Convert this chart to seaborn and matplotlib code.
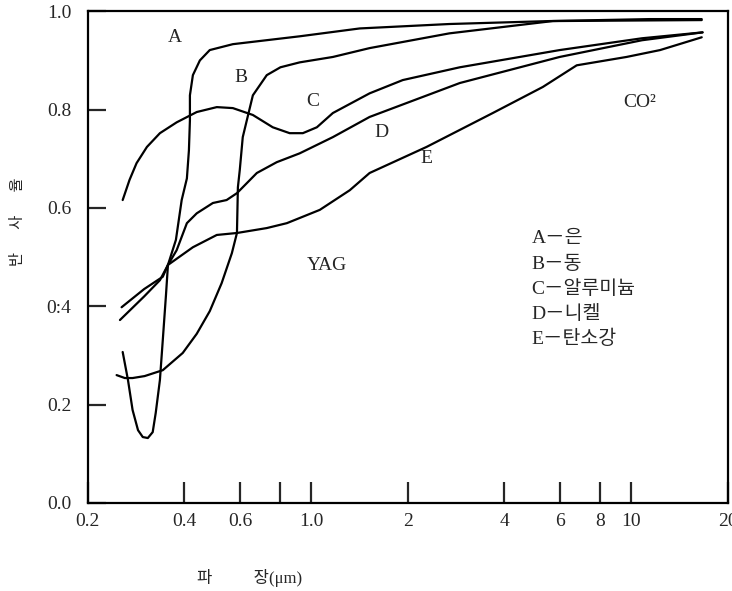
import matplotlib
matplotlib.use("Agg")
import matplotlib.pyplot as plt
import pandas as pd
import seaborn as sns

# wavelength (um) / reflectance
a_wl = [0.257, 0.267, 0.276, 0.287, 0.297, 0.308, 0.319, 0.326, 0.336, 0.343, 0.351, 0.356,
        0.377, 0.393, 0.408, 0.414, 0.417, 0.417, 0.426, 0.448, 0.481, 0.568, 0.919, 1.416,
        2.70, 5.56, 11.4, 16.6]
a_r = [0.307, 0.250, 0.189, 0.148, 0.134, 0.132, 0.144, 0.183, 0.250, 0.331, 0.423, 0.484,
       0.535, 0.616, 0.660, 0.717, 0.778, 0.829, 0.870, 0.900, 0.921, 0.933, 0.949, 0.965,
       0.974, 0.980, 0.984, 0.984]

b_wl = [0.246, 0.261, 0.276, 0.301, 0.343, 0.396, 0.438, 0.481, 0.524, 0.564, 0.585, 0.589,
        0.597, 0.610, 0.656, 0.725, 0.80, 0.919, 1.167, 1.52, 2.70, 5.68, 16.6]
b_r = [0.260, 0.254, 0.254, 0.258, 0.270, 0.305, 0.344, 0.390, 0.447, 0.508, 0.549, 0.642,
       0.677, 0.744, 0.829, 0.870, 0.886, 0.896, 0.907, 0.925, 0.955, 0.980, 0.982]

c_wl = [0.257, 0.270, 0.284, 0.306, 0.336, 0.379, 0.438, 0.506, 0.568, 0.656, 0.757, 0.855,
        0.940, 1.040, 1.167, 1.52, 1.93, 2.91, 5.97, 10.8, 16.7]
c_r = [0.616, 0.657, 0.691, 0.724, 0.752, 0.774, 0.795, 0.805, 0.803, 0.789, 0.764, 0.752,
       0.752, 0.764, 0.793, 0.833, 0.860, 0.886, 0.921, 0.945, 0.957]

d_wl = [0.252, 0.30, 0.336, 0.356, 0.379, 0.408, 0.438, 0.492, 0.543, 0.585, 0.675, 0.779,
        0.919, 1.167, 1.52, 2.91, 5.97, 10.8, 16.7]
d_r = [0.372, 0.420, 0.453, 0.484, 0.514, 0.569, 0.589, 0.610, 0.616, 0.630, 0.671, 0.693,
       0.711, 0.744, 0.785, 0.854, 0.907, 0.941, 0.957]

e_wl = [0.255, 0.30, 0.343, 0.356, 0.426, 0.506, 0.585, 0.725, 0.838, 1.062, 1.318, 1.52,
        2.29, 3.69, 5.29, 6.75, 9.66, 12.3, 16.6]
e_r = [0.398, 0.435, 0.460, 0.484, 0.520, 0.545, 0.549, 0.559, 0.569, 0.596, 0.636, 0.671,
       0.724, 0.793, 0.846, 0.890, 0.907, 0.921, 0.947]

curve_names = ["A", "B", "C", "D", "E"]
legend_lines = ["A－은", "B－동", "C－알루미늄", "D－니켈", "E－탄소강"]

x_ticks = [0.2, 0.4, 0.6, 0.8, 1, 2, 4, 6, 8, 10, 20]
x_ticklabels = ["0.2", "0.4", "0.6", "", "1.0", "2", "4", "6", "8", "10", "20"]
y_ticks = [0.0, 0.2, 0.4, 0.6, 0.8, 1.0]
y_ticklabels = ["0.0", "0.2", "0:4", "0.6", "0.8", "1.0"]

frames = []
for name, wl, r in zip(curve_names, [a_wl, b_wl, c_wl, d_wl, e_wl], [a_r, b_r, c_r, d_r, e_r]):
    frames.append(pd.DataFrame({"wl": wl, "r": r, "curve": name}))
df = pd.concat(frames, ignore_index=True)

sns.set_style("white")
plt.rcParams["font.family"] = ["Liberation Serif", "Noto Sans CJK KR", "DejaVu Sans"]

fig = plt.figure(figsize=(7.32, 5.91), dpi=100)
ax = fig.add_axes([0.120, 0.149, 0.874, 0.832])

sns.lineplot(data=df, x="wl", y="r", units="curve", estimator=None, sort=False,
             color="black", linewidth=1.6, legend=False, ax=ax)

ax.set_xscale("log")
ax.set_xlim(0.2, 20)
ax.set_ylim(0, 1.0)
ax.set_xticks(x_ticks)
ax.set_xticklabels(x_ticklabels, fontsize=14)
ax.minorticks_off()
ax.set_yticks(y_ticks)
ax.set_yticklabels(y_ticklabels, fontsize=14)
ax.tick_params(axis="x", bottom=True, direction="in", length=15, width=1.6, pad=7)
ax.tick_params(axis="y", left=True, direction="in", length=13, width=1.6, pad=12)
ax.set_xlabel("")
ax.set_ylabel("")
for s in ax.spines.values():
    s.set_linewidth(1.6)
    s.set_color("black")

# curve labels
fs = 14
ax.text(0.374, 0.947, "A", fontsize=fs, ha="center", va="center")
ax.text(0.601, 0.866, "B", fontsize=fs, ha="center", va="center")
ax.text(1.01, 0.817, "C", fontsize=fs, ha="center", va="center")
ax.text(1.65, 0.754, "D", fontsize=fs, ha="center", va="center")
ax.text(2.29, 0.701, "E", fontsize=fs, ha="center", va="center")
ax.text(10.6, 0.815, "CO²", fontsize=fs, ha="center", va="center")
ax.text(1.12, 0.482, "YAG", fontsize=fs, ha="center", va="center")

for i, line in enumerate(legend_lines):
    ax.text(4.88, 0.537 - i * 0.051, line, fontsize=fs, ha="left", va="center")

fig.text(18 / 732, 0.624, "반      사      율", rotation=90, fontsize=11,
         ha="center", va="center")
fig.text(250 / 732, 13 / 591, "파          장(μm)", fontsize=12, ha="center", va="center")

fig.savefig("out.png", dpi=100)
